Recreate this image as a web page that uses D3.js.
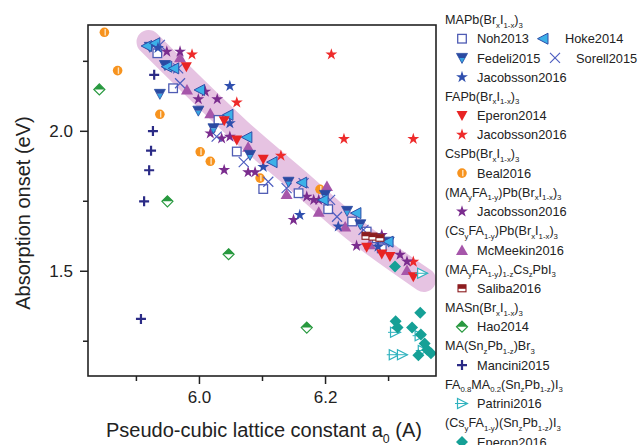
<!DOCTYPE html>
<html>
<head>
<meta charset="utf-8">
<script src="https://cdn.jsdelivr.net/npm/d3@7"></script>
<style>
  body { margin: 0; background: #fff; }
  svg { display: block; font-family: "Liberation Sans", Arial, sans-serif; }
</style>
</head>
<body>
<svg id="chart" width="638" height="445"></svg>
<script>
// axis ticks
const xMajor = [6.0, 6.2];
const xMinor = [5.9, 6.1, 6.3];
const yMajor = [1.5, 2.0];
const yMinor = [1.25, 1.75, 2.25];

// guide band (centre line of the pink stripe)
const band = [[5.920, 2.317], [6.065, 2.000], [6.156, 1.824], [6.250, 1.640], [6.357, 1.467]];

// [lattice constant, absorption onset]
const noh2013 = [[5.934,2.277],[5.959,2.152],[6.031,2.039],[6.060,1.926],[6.102,1.792],[6.158,1.777],[6.205,1.720],[6.243,1.676],[6.266,1.640],[6.282,1.616],[6.290,1.580]];
const hoke2014 = [[5.917,2.303],[5.930,2.313],[5.949,2.229],[5.960,2.223],[6.001,2.146],[6.046,2.057],[6.076,1.977],[6.116,1.888],[6.163,1.815],[6.197,1.753],[6.249,1.706],[6.300,1.604]];
const fedeli2015 = [[5.922,2.300],[5.946,2.235],[5.938,2.132],[5.999,2.072],[6.023,2.009],[6.081,1.914],[6.142,1.818],[6.200,1.771],[6.235,1.714],[6.256,1.666],[6.301,1.604]];
const sorell2015 = [[5.938,2.307],[5.967,2.223],[5.970,2.170],[6.028,1.979],[6.071,1.888],[6.110,1.818],[6.139,1.795],[6.166,1.813],[6.208,1.753],[6.219,1.693],[6.261,1.646],[6.287,1.610]];
const jacobssonMA = [[5.935,2.296],[6.049,2.160],[6.049,2.027],[6.102,1.871],[6.160,1.699],[6.221,1.658],[6.284,1.586]];
const eperon2014 = [[5.980,2.229],[6.040,2.036],[6.060,1.967],[6.102,1.898],[6.266,1.584],[6.290,1.560],[6.303,1.551],[6.340,1.479]];
const jacobssonFA = [[5.989,2.273],[6.210,2.273],[6.060,2.101],[6.230,1.971],[6.340,1.971],[6.130,1.911],[6.340,1.532]];
const beal2016 = [[5.850,2.352],[5.871,2.215],[5.938,2.059],[6.002,1.925],[6.018,1.891],[6.097,1.831],[6.192,1.791]];
const jacobssonMAFA = [[5.949,2.283],[5.970,2.283],[5.999,2.113],[6.010,2.140],[6.029,2.113],[6.018,1.991],[6.036,1.973],[6.049,1.979],[6.040,1.860],[6.078,1.852],[6.089,1.852],[6.150,1.682],[6.171,1.765],[6.182,1.753],[6.190,1.753],[6.250,1.589],[6.290,1.628],[6.319,1.557],[6.330,1.533]];
const mcmeekin2016 = [[5.970,2.263],[5.981,2.148],[6.018,2.063],[6.078,1.943],[6.139,1.774],[6.203,1.803],[6.190,1.711],[6.232,1.658],[6.271,1.595],[6.330,1.503]];
const saliba2016 = [[6.265,1.625],[6.276,1.622],[6.287,1.618]];
const hao2014 = [[5.842,2.148],[5.950,1.748],[6.047,1.559],[6.171,1.297]];
const mancini2015 = [[5.929,2.200],[5.927,1.999],[5.924,1.929],[5.921,1.859],[5.913,1.748],[5.908,1.328]];
const patrini2016 = [[6.354,1.491],[6.311,1.280],[6.350,1.268],[6.309,1.200],[6.322,1.200],[6.355,1.215]];
const eperon2016 = [[6.311,1.515],[6.351,1.350],[6.312,1.320],[6.315,1.297],[6.338,1.297],[6.352,1.272],[6.358,1.240],[6.362,1.218],[6.348,1.198],[6.368,1.205]];

// legend: compound headers and entry labels
const headers = [
  "MAPb(Br_{x}I_{1-x})_{3}",
  "FAPb(Br_{x}I_{1-x})_{3}",
  "CsPb(Br_{x}I_{1-x})_{3}",
  "(MA_{y}FA_{1-y})Pb(Br_{x}I_{1-x})_{3}",
  "(Cs_{y}FA_{1-y})Pb(Br_{x}I_{1-x})_{3}",
  "(MA_{y}FA_{1-y})_{1-z}Cs_{z}PbI_{3}",
  "MASn(Br_{x}I_{1-x})_{3}",
  "MA(Sn_{z}Pb_{1-z})Br_{3}",
  "FA_{0.8}MA_{0.2}(Sn_{z}Pb_{1-z})I_{3}",
  "(Cs_{y}FA_{1-y})(Sn_{z}Pb_{1-z})I_{3}"
];

// series table (order = drawing order)
const series = [
  { sym: "hao", label: "Hao2014", data: hao2014 },
  { sym: "mancini", label: "Mancini2015", data: mancini2015 },
  { sym: "beal", label: "Beal2016", data: beal2016 },
  { sym: "starRed", label: "Jacobsson2016", data: jacobssonFA },
  { sym: "mcmeekin", label: "McMeekin2016", data: mcmeekin2016 },
  { sym: "starPurple", label: "Jacobsson2016", data: jacobssonMAFA },
  { sym: "noh", label: "Noh2013", data: noh2013 },
  { sym: "sorell", label: "Sorell2015", data: sorell2015 },
  { sym: "fedeli", label: "Fedeli2015", data: fedeli2015 },
  { sym: "hoke", label: "Hoke2014", data: hoke2014 },
  { sym: "starBlue", label: "Jacobsson2016", data: jacobssonMA },
  { sym: "eperon2014", label: "Eperon2014", data: eperon2014 },
  { sym: "saliba", label: "Saliba2016", data: saliba2016 },
  { sym: "patrini", label: "Patrini2016", data: patrini2016 },
  { sym: "eperon2016", label: "Eperon2016", data: eperon2016 }
];

const svg = d3.select("#chart");
const plot = { left: 88, top: 25, right: 436, bottom: 376 };

const x = d3.scaleLinear().domain([5.824, 6.376]).range([plot.left, plot.right]);
const y = d3.scaleLinear().domain([1.124, 2.378]).range([plot.bottom, plot.top]);

svg.append("defs").append("clipPath").attr("id", "clip")
  .append("rect")
  .attr("x", plot.left).attr("y", plot.top)
  .attr("width", plot.right - plot.left).attr("height", plot.bottom - plot.top);

// symbol shapes
const starPath = d3.symbol(d3.symbolStar, 44)();
function drawSymbol(g, sym) {
  switch (sym) {
    case "noh":
      g.append("rect").attr("x", -4.3).attr("y", -4.3).attr("width", 8.6).attr("height", 8.6)
        .attr("fill", "#fff").attr("stroke", "#4f5cb4").attr("stroke-width", 1.3);
      break;
    case "hoke":
      g.append("path").attr("d", "M-5.5,0L5,-5.5L5,5.5Z")
        .attr("fill", "#3cb0e8").attr("stroke", "#2e4ea8").attr("stroke-width", 1);
      break;
    case "fedeli":
      g.append("path").attr("d", "M-3,0L3,0L0,5.5Z").attr("fill", "#36a4e2");
      g.append("path").attr("d", "M-5.5,-4.5L5.5,-4.5L3,0L-3,0Z").attr("fill", "#2a4aa2");
      g.append("path").attr("d", "M-5.5,-4.5L5.5,-4.5L0,5.5Z")
        .attr("fill", "none").attr("stroke", "#2a4aa2").attr("stroke-width", 0.8);
      break;
    case "sorell":
      g.append("path").attr("d", "M-5,-5L5,5M-5,5L5,-5")
        .attr("stroke", "#4e5ec0").attr("stroke-width", 1.2).attr("fill", "none");
      break;
    case "starBlue":
      g.append("path").attr("d", starPath).attr("fill", "#2f4fae");
      break;
    case "starRed":
      g.append("path").attr("d", starPath).attr("fill", "#ee2b2b");
      break;
    case "starPurple":
      g.append("path").attr("d", starPath).attr("fill", "#7a2c8e");
      break;
    case "eperon2014":
      g.append("path").attr("d", "M-5.5,-4.5L5.5,-4.5L0,5.5Z").attr("fill", "#e82424");
      break;
    case "beal":
      g.append("circle").attr("r", 4.8).attr("fill", "#f7931e");
      g.append("line").attr("x1", 0.8).attr("x2", 0.8).attr("y1", -3.2).attr("y2", 3.2)
        .attr("stroke", "#fde3c0").attr("stroke-width", 1.4);
      break;
    case "mcmeekin":
      g.append("path").attr("d", "M0,-5.5L6,5L-6,5Z").attr("fill", "#a656aa");
      break;
    case "saliba":
      g.append("rect").attr("x", -4).attr("y", -3.5).attr("width", 8).attr("height", 7)
        .attr("fill", "#fff").attr("stroke", "#8c1c1f").attr("stroke-width", 1.1);
      g.append("rect").attr("x", -4).attr("y", -3.5).attr("width", 8).attr("height", 4)
        .attr("fill", "#8c1c1f");
      break;
    case "hao":
      g.append("path").attr("d", "M0,-5.5L5.5,0L-5.5,0Z").attr("fill", "#28993f");
      g.append("path").attr("d", "M0,-5.5L5.5,0L0,5.5L-5.5,0Z")
        .attr("fill", "none").attr("stroke", "#28993f").attr("stroke-width", 1.2);
      break;
    case "mancini":
      g.append("path").attr("d", "M-5,0L5,0M0,-5L0,5")
        .attr("stroke", "#2b2b86").attr("stroke-width", 2.2);
      break;
    case "patrini":
      g.append("path").attr("d", "M5.5,0L-4.5,-5L-4.5,5Z")
        .attr("fill", "#fff").attr("stroke", "#2fb2be").attr("stroke-width", 1.2);
      g.append("path").attr("d", "M-7,0L5.5,0")
        .attr("stroke", "#2fb2be").attr("stroke-width", 1);
      break;
    case "eperon2016":
      g.append("path").attr("d", "M0,-6L6,0L0,6L-6,0Z").attr("fill", "#15a096");
      break;
  }
}

// text with _{subscripts}
function richText(sel, str, size) {
  const parts = str.split(/_\{([^}]*)\}/);
  let off = 0;
  parts.forEach((p, i) => {
    if (!p) return;
    const sub = i % 2 === 1;
    const target = sub ? size * 0.28 : 0;
    sel.append("tspan").attr("dy", target - off)
      .attr("font-size", sub ? size * 0.62 : size).text(p);
    off = target;
  });
}

// band
const bandLine = d3.line().x(d => x(d[0])).y(d => y(d[1])).curve(d3.curveCatmullRom);
const plotG = svg.append("g").attr("clip-path", "url(#clip)");
plotG.append("path").attr("d", bandLine(band))
  .attr("fill", "none").attr("stroke", "#e6c3e2").attr("stroke-width", 24)
  .attr("stroke-linecap", "round");

// markers
series.forEach(s => {
  plotG.append("g").selectAll("g").data(s.data).join("g")
    .attr("transform", d => `translate(${x(d[0])},${y(d[1])})`)
    .each(function () { drawSymbol(d3.select(this), s.sym); });
});

// frame
svg.append("rect").attr("x", plot.left).attr("y", plot.top)
  .attr("width", plot.right - plot.left).attr("height", plot.bottom - plot.top)
  .attr("fill", "none").attr("stroke", "#222").attr("stroke-width", 1.6);

// axes
svg.append("g").attr("transform", `translate(0,${plot.bottom})`)
  .call(d3.axisBottom(x).tickValues(xMajor).tickFormat(d3.format(".1f")).tickSize(8).tickPadding(7));
svg.append("g").attr("transform", `translate(0,${plot.bottom})`)
  .call(d3.axisBottom(x).tickValues(xMinor).tickFormat("").tickSize(5));
svg.append("g").attr("transform", `translate(${plot.left},0)`)
  .call(d3.axisLeft(y).tickValues(yMajor).tickFormat(d3.format(".1f")).tickSize(8).tickPadding(7));
svg.append("g").attr("transform", `translate(${plot.left},0)`)
  .call(d3.axisLeft(y).tickValues(yMinor).tickFormat("").tickSize(5));
svg.selectAll(".domain").remove();
svg.selectAll(".tick line").attr("stroke", "#222").attr("stroke-width", 1.5);
svg.selectAll(".tick text").attr("font-size", 17).attr("fill", "#222")
  .attr("font-family", "Liberation Sans, Arial, sans-serif");

// axis titles
svg.append("text").attr("transform", "translate(30,213) rotate(-90)")
  .attr("text-anchor", "middle").attr("font-size", 20).attr("fill", "#222")
  .text("Absorption onset (eV)");
const xt = svg.append("text").attr("x", 264).attr("y", 437)
  .attr("text-anchor", "middle").attr("font-size", 20).attr("fill", "#222");
richText(xt, "Pseudo-cubic lattice constant a_{0} (A)", 20);

// legend layout
const bySym = Object.fromEntries(series.map(s => [s.sym, s]));
const legendRows = [
  { h: 0 },
  { items: [["noh", 462, 477], ["hoke", 543, 565]] },
  { items: [["fedeli", 462, 477], ["sorell", 555, 576]] },
  { items: [["starBlue", 462, 477]] },
  { h: 1 },
  { items: [["eperon2014", 462, 477]] },
  { items: [["starRed", 462, 477]] },
  { h: 2 },
  { items: [["beal", 462, 477]] },
  { h: 3 },
  { items: [["starPurple", 462, 477]] },
  { h: 4 },
  { items: [["mcmeekin", 462, 477]] },
  { h: 5 },
  { items: [["saliba", 462, 477]] },
  { h: 6 },
  { items: [["hao", 462, 477]] },
  { h: 7 },
  { items: [["mancini", 462, 477]] },
  { h: 8 },
  { items: [["patrini", 462, 477]] },
  { h: 9 },
  { items: [["eperon2016", 462, 477]] }
];

const legend = svg.append("g").attr("fill", "#222");
legendRows.forEach((row, i) => {
  const cy = 19.5 + i * 19.2;
  if (row.h !== undefined) {
    const t = legend.append("text").attr("x", 445).attr("y", cy + 4.5).attr("font-size", 12.6);
    richText(t, headers[row.h], 12.6);
  } else {
    row.items.forEach(([sym, sx, tx]) => {
      const g = legend.append("g").attr("transform", `translate(${sx},${cy})`);
      drawSymbol(g, sym);
      legend.append("text").attr("x", tx).attr("y", cy + 4.6).attr("font-size", 12.8)
        .text(bySym[sym].label);
    });
  }
});
</script>
</body>
</html>
